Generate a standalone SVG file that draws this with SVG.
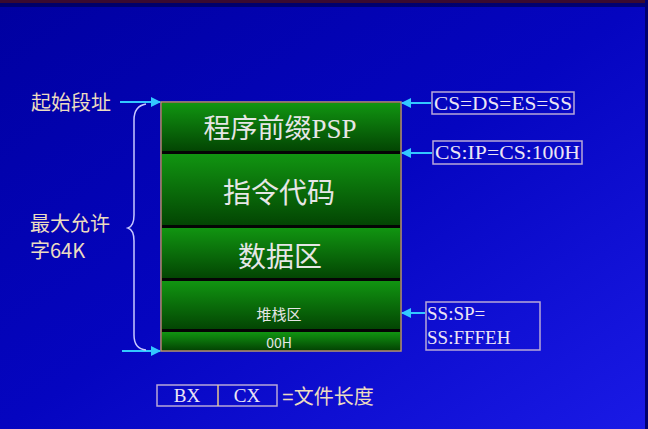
<svg xmlns="http://www.w3.org/2000/svg" width="648" height="429" viewBox="0 0 648 429">
<defs>
<linearGradient id="bg" x1="0" y1="0" x2="1" y2="1">
<stop offset="0" stop-color="#0000a0"/>
<stop offset="0.5" stop-color="#0505c0"/>
<stop offset="1" stop-color="#1a1ae6"/>
</linearGradient>
<linearGradient id="seg" x1="0" y1="0" x2="0" y2="1">
<stop offset="0" stop-color="#119511"/>
<stop offset="1" stop-color="#034503"/>
</linearGradient>
<marker id="ah" viewBox="0 0 10 10" refX="9" refY="5" markerWidth="5" markerHeight="5" orient="auto">
<path d="M0,0 L10,5 L0,10 z" fill="#33c8ff"/>
</marker>
<style>
.seg{fill:url(#seg)}
.big{font-family:"Noto Sans CJK SC","Liberation Serif",serif;fill:#e6e6e6;text-anchor:middle}
.lbl{font-family:"Noto Sans CJK SC",sans-serif;fill:#ecdcc0;font-size:20px}
.reg{font-family:"Liberation Serif",serif;fill:#ece4f4;font-size:19px}
.box{fill:none;stroke:#b8a8d8;stroke-width:1.5}
.arr{stroke:#33c8ff;stroke-width:2;fill:none;marker-end:url(#ah)}
</style>
</defs>
<rect x="0" y="0" width="648" height="429" fill="url(#bg)"/>
<rect x="0" y="0" width="648" height="3" fill="#3a0a30"/>
<rect x="0" y="3" width="648" height="4" fill="#000050" opacity="0.7"/>
<rect x="645" y="0" width="3" height="429" fill="#000070"/>

<g id="memory">
<rect x="161" y="102" width="240" height="249" fill="#050505" stroke="#b89870" stroke-width="1.5"/>
<g id="psp"><rect class="seg" x="162" y="103" width="238" height="48"/>
<text class="big" x="280" y="138" font-size="27">程序前缀<tspan font-family="Liberation Serif">PSP</tspan></text></g>
<g id="code"><rect class="seg" x="162" y="154" width="238" height="71"/>
<text class="big" x="279" y="203" font-size="28">指令代码</text></g>
<g id="data"><rect class="seg" x="162" y="228" width="238" height="50"/>
<text class="big" x="280" y="267" font-size="28">数据区</text></g>
<g id="stack"><rect class="seg" x="162" y="281" width="238" height="48"/>
<text class="big" x="279" y="320" font-size="15">堆栈区</text></g>
<g id="zero"><rect class="seg" x="162" y="332" width="238" height="18"/>
<text class="big" x="279" y="348" font-size="14" font-family="Liberation Serif">00H</text></g>
</g>

<g id="left-labels">
<text class="lbl" x="31" y="110">起始段址</text>
<text class="lbl" x="30" y="231" font-size="18">最大允许</text>
<text class="lbl" x="30" y="258" font-size="18">字64K</text>
</g>

<g id="reg-labels">
<g id="r1"><rect class="box" x="432" y="92" width="142" height="22"/>
<text class="reg" x="434" y="110" textLength="138" lengthAdjust="spacingAndGlyphs">CS=DS=ES=SS</text></g>
<g id="r2"><rect class="box" x="433" y="141" width="149" height="23"/>
<text class="reg" x="435" y="159" textLength="145" lengthAdjust="spacingAndGlyphs">CS:IP=CS:100H</text></g>
<g id="r3"><rect class="box" x="426" y="302" width="114" height="48"/>
<text class="reg" x="427" y="320">SS:SP=</text>
<text class="reg" x="427" y="344">SS:FFFEH</text></g>
</g>

<g id="length">
<rect x="157" y="385" width="120" height="21" fill="none" stroke="#b8a8d8" stroke-width="1.5"/>
<line x1="218" y1="385" x2="218" y2="406" stroke="#e8c890" stroke-width="1.5"/>
<text class="reg" x="187" y="402" text-anchor="middle">BX</text>
<text class="reg" x="247" y="402" text-anchor="middle">CX</text>
<text class="lbl" x="282" y="404"><tspan font-family="Liberation Sans">=</tspan>文件长度</text>
</g>

<g id="connectors">
<line class="arr" x1="120" y1="102" x2="160" y2="102"/>
<line class="arr" x1="122" y1="351" x2="160" y2="351"/>
<line class="arr" x1="431" y1="103" x2="402" y2="103"/>
<line class="arr" x1="432" y1="153" x2="402" y2="153"/>
<line class="arr" x1="425" y1="313" x2="402" y2="313"/>
<path d="M146,104 Q134,106 134,120 L134,215 Q134,226 128,228 Q134,230 134,241 L134,335 Q134,349 146,350" fill="none" stroke="#c8c8ff" stroke-width="1.5"/>
</g>
</svg>
